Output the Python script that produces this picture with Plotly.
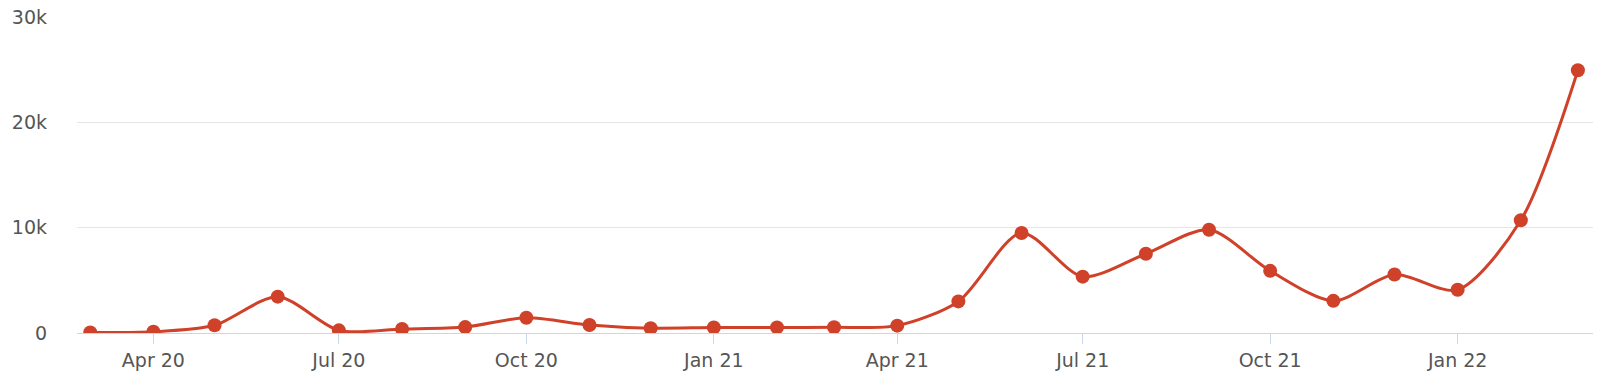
import plotly.graph_objects as go

months = ["2020-03-01", "2020-04-01", "2020-05-01", "2020-06-01", "2020-07-01", "2020-08-01",
          "2020-09-01", "2020-10-01", "2020-11-01", "2020-12-01", "2021-01-01", "2021-02-01",
          "2021-03-01", "2021-04-01", "2021-05-01", "2021-06-01", "2021-07-01", "2021-08-01",
          "2021-09-01", "2021-10-01", "2021-11-01", "2021-12-01", "2022-01-01", "2022-02-01",
          "2022-03-01"]
values = [50, 120, 730, 3450, 250, 380, 560, 1450, 760, 460, 520, 530,
          540, 700, 3000, 9500, 5350, 7520, 9800, 5900, 3050, 5550, 4100, 10700,
          24950]

tick_vals = ["2020-04-01", "2020-07-01", "2020-10-01", "2021-01-01", "2021-04-01",
             "2021-07-01", "2021-10-01", "2022-01-01"]
tick_text = ["Apr 20", "Jul 20", "Oct 20", "Jan 21", "Apr 21", "Jul 21", "Oct 21", "Jan 22"]
y_ticks = [0, 10000, 20000, 30000]
y_text = ["0", "10k", "20k", "30k"]

color = "#cf4129"

fig = go.Figure()
fig.add_trace(go.Scatter(
    x=months, y=values, mode="lines+markers",
    line=dict(color=color, width=3, shape="spline", smoothing=0.8),
    marker=dict(color=color, size=14),
    showlegend=False,
))

fig.update_layout(
    width=1600, height=389,
    margin=dict(l=77, r=7, t=17, b=56),
    paper_bgcolor="white", plot_bgcolor="white",
    font=dict(family="DejaVu Sans, Open Sans, sans-serif", size=19, color="#555555"),
    xaxis=dict(
        type="date",
        range=["2020-02-23 12:00", "2022-03-08 10:00"],
        tickvals=tick_vals, ticktext=tick_text,
        showgrid=False, showline=True, linecolor="#ccd6eb", linewidth=1,
        ticks="outside", ticklen=10, tickcolor="#ccd6eb",
        zeroline=False,
    ),
    yaxis=dict(
        range=[0, 30000],
        tickvals=y_ticks, ticktext=y_text,
        showgrid=True, gridcolor="#e6e6e6", gridwidth=1,
        zeroline=False, showline=False,
        ticklabelstandoff=29,
    ),
)

fig.write_html("out.html")
